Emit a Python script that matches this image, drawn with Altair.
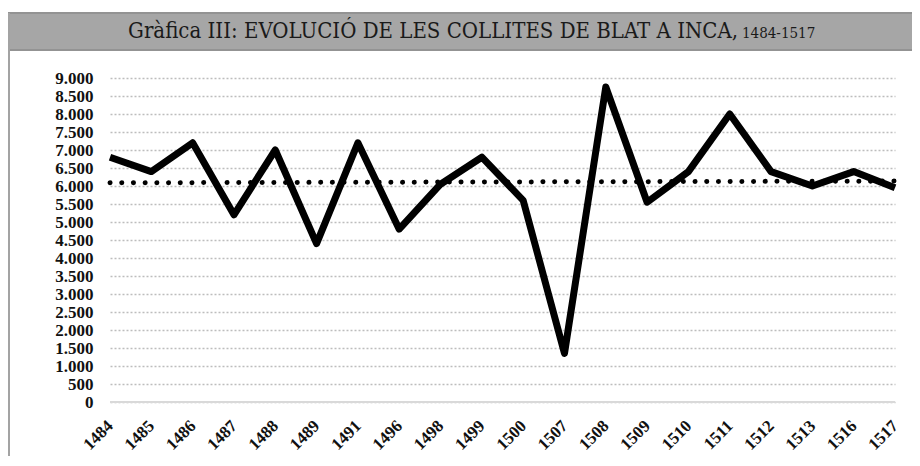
import altair as alt
import pandas as pd

years = ['1484', '1485', '1486', '1487', '1488', '1489', '1491', '1496', '1498', '1499',
         '1500', '1507', '1508', '1509', '1510', '1511', '1512', '1513', '1516', '1517']
harvest = [6800, 6400, 7200, 5200, 7000, 4400, 7200, 4800, 6050, 6800,
           5600, 1350, 8750, 5550, 6400, 8000, 6400, 6000, 6400, 5950]
y_ticks = list(range(0, 9001, 500))
title_main = "Gràfica III: EVOLUCIÓ DE LES COLLITES DE BLAT A INCA,"
title_years = "1484-1517"

df = pd.DataFrame({"idx": list(range(len(years))), "year": years, "val": harvest})

W, H = 785, 324
label_expr = "[" + ",".join("'%s'" % y for y in years) + "][datum.value]"

x_axis = alt.Axis(values=list(range(len(years))), labelExpr=label_expr,
                  labelAngle=315, labelAlign="right", labelBaseline="middle",
                  labelPadding=21, labelFont="Liberation Serif", labelFontWeight="bold",
                  labelFontSize=17, labelColor="#111", labelOverlap=False,
                  ticks=False, domain=False, grid=False, title=None)
y_axis = alt.Axis(values=y_ticks,
                  labelExpr="replace(format(datum.value, ','), ',', '.')",
                  labelFont="Liberation Serif", labelFontWeight="bold",
                  labelFontSize=17, labelColor="#111", labelPadding=17,
                  labelOverlap=False, ticks=False, domain=False, grid=True,
                  gridColor="#bdbdbd", gridDash=[2, 2], gridWidth=1.6,
                  title=None)
x_scale = alt.Scale(domain=[0, len(years) - 1], nice=False, zero=False)
y_scale = alt.Scale(domain=[0, 9000], nice=False)

def X():
    return alt.X("idx:Q", scale=x_scale, axis=x_axis)

def Y():
    return alt.Y("val:Q", scale=y_scale, axis=y_axis)

base = alt.Chart(df)

zero_rule = base.mark_rule(color="#d9d9d9", strokeWidth=2).encode(
    y=alt.datum(0, scale=y_scale, axis=y_axis))

trend = base.transform_regression("idx", "val").mark_line(
    color="black", strokeWidth=5, strokeDash=[0.1, 11.6], strokeCap="round"
).encode(x=X(), y=Y())

line = base.mark_line(color="black", strokeWidth=7, strokeJoin="round").encode(
    x=X(), y=Y())

bar = alt.Chart(pd.DataFrame({"a": [0]})).mark_rect(
    fill="#a6a6a6", stroke="#939393", strokeWidth=2, clip=False
).encode(x=alt.value(-101), x2=alt.value(812), y=alt.value(-65), y2=alt.value(-28))

vline = alt.Chart(pd.DataFrame({"a": [0]})).mark_rule(
    color="#a3a3a3", strokeWidth=2, clip=False
).encode(x=alt.value(-101), y=alt.value(-65), y2=alt.value(404))

t1 = alt.Chart(pd.DataFrame({"t": [title_main]})).mark_text(
    font="DejaVu Serif Condensed", fontSize=22, color="#1a1a1a", align="right",
    baseline="middle"
).encode(x=alt.value(628), y=alt.value(-47), text="t:N")

t2 = alt.Chart(pd.DataFrame({"t": [title_years]})).mark_text(
    font="DejaVu Serif Condensed", fontSize=15, color="#1a1a1a", align="left",
    baseline="middle"
).encode(x=alt.value(632), y=alt.value(-45), text="t:N")

chart = alt.layer(bar, vline, t1, t2, zero_rule, trend, line).properties(
    width=W, height=H,
    autosize=alt.AutoSizeParams(type="none"),
    padding={"left": 102, "top": 70, "right": 17, "bottom": 54},
    background="white",
).configure_view(stroke=None)

chart.save("out.html", embed_options={"renderer": "svg", "actions": False})
